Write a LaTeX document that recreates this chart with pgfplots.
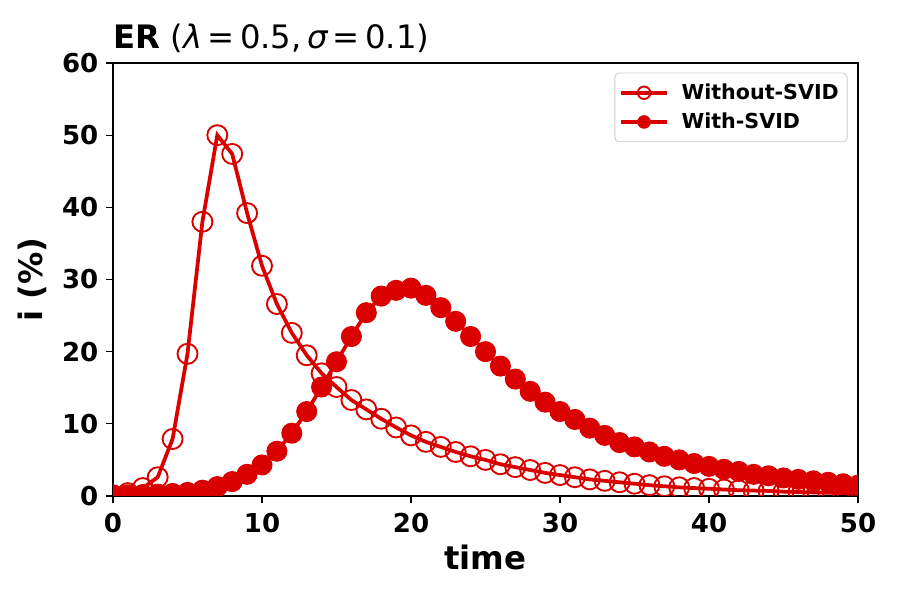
\documentclass[border=0pt]{standalone}
\usepackage{pgfplots}
\pgfplotsset{compat=1.18}
\usepackage{fontspec}
\setmainfont{DejaVu Sans}
\definecolor{myred}{RGB}{218,0,0}
\begin{document}
\begin{tikzpicture}
\path[use as bounding box] (0,0) rectangle (432pt,288pt);
\begin{axis}[
  at={(54.24pt,49.92pt)}, anchor=south west,
  scale only axis, width=357.6pt, height=207.84pt,
  xmin=0, xmax=50, ymin=0, ymax=60,
  xtick={0,10,20,30,40,50}, ytick={0,10,20,30,40,50,60},
  tick align=outside, major tick length=3.5pt,
  xtick pos=bottom, ytick pos=left,
  tick style={black, line width=0.6pt},
  axis line style={line width=0.6pt},
  /pgf/number format/assume math mode=true,
  tick label style={font=\bfseries\fontsize{12.5}{14}\selectfont},
  xticklabel style={yshift=-1pt},
  xlabel={\bfseries time}, ylabel={\bfseries i (\%)},
  label style={font=\bfseries\fontsize{15.5}{18}\selectfont},
  xlabel style={at={(0.5,0)}, anchor=base, yshift=-35.5pt},
  ylabel style={at={(0,0.5)}, anchor=base, yshift=34pt},
  title={\textbf{ER} ({\itshape λ}\,=\,0.5,\,{\itshape σ}\,=\,0.1)},
  title style={at={(0,1)}, anchor=base west, yshift=1pt, inner sep=0pt, font=\fontsize{15.5}{18}\selectfont},
  clip marker paths=true,
  legend style={at={(0.986,0.978)}, anchor=north east, draw=black!20, rounded corners=2pt,
    font=\bfseries\fontsize{9.9}{12}\selectfont, row sep=1pt, column sep=4pt, inner xsep=2pt, inner ysep=3pt,
    cells={anchor=west}},
  legend image code/.code={\draw[mark size=3pt, mark repeat=2, mark phase=2] plot coordinates {(0cm,0cm) (0.39cm,0cm) (0.78cm,0cm)};},
]
\addplot[color=myred, line width=1.8pt, mark=o, mark size=4.8pt, mark options={line width=0.9pt, fill=none}] coordinates {
(0,0.1)(1,0.4)(2,1.1)(3,2.6)(4,7.9)(5,19.7)(6,38.0)(7,50.0)(8,47.4)(9,39.2)
(10,31.9)(11,26.6)(12,22.6)(13,19.5)(14,17.0)(15,15.1)(16,13.3)(17,12.0)(18,10.7)(19,9.5)
(20,8.4)(21,7.5)(22,6.8)(23,6.1)(24,5.5)(25,5.0)(26,4.4)(27,4.0)(28,3.6)(29,3.2)
(30,2.9)(31,2.6)(32,2.3)(33,2.1)(34,1.9)(35,1.7)(36,1.5)(37,1.35)(38,1.2)(39,1.1)
(40,1.0)(41,0.9)(42,0.8)(43,0.75)(44,0.7)(45,0.6)(46,0.55)(47,0.5)(48,0.45)(49,0.4)(50,0.35)
};
\addlegendentry{Without-SVID}
\addplot[color=myred, line width=1.8pt, mark=*, mark size=4.8pt, mark options={line width=0.5pt, fill=myred}] coordinates {
(0,0.1)(1,0.15)(2,0.2)(3,0.25)(4,0.35)(5,0.5)(6,0.8)(7,1.3)(8,2.0)(9,3.0)
(10,4.3)(11,6.2)(12,8.7)(13,11.7)(14,15.1)(15,18.6)(16,22.1)(17,25.4)(18,27.7)(19,28.5)
(20,28.8)(21,27.8)(22,26.1)(23,24.2)(24,22.1)(25,20.0)(26,18.0)(27,16.2)(28,14.5)(29,13.0)
(30,11.7)(31,10.6)(32,9.4)(33,8.4)(34,7.4)(35,6.8)(36,6.1)(37,5.5)(38,5.0)(39,4.5)
(40,4.1)(41,3.7)(42,3.4)(43,3.0)(44,2.8)(45,2.5)(46,2.3)(47,2.1)(48,1.9)(49,1.7)(50,1.5)
};
\addlegendentry{With-SVID}
\end{axis}
\end{tikzpicture}
\end{document}
